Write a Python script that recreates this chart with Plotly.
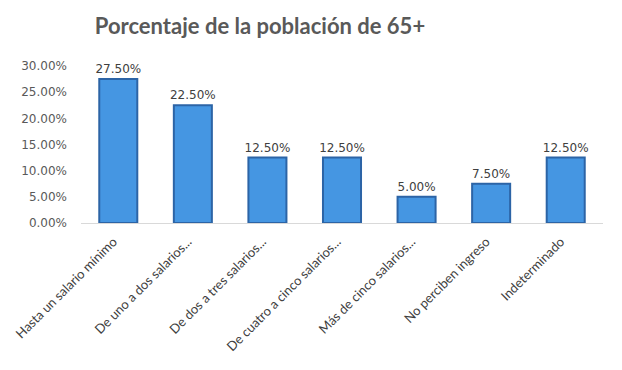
import plotly.graph_objects as go

categories = ["Hasta un salario mínimo", "De uno a dos salarios...", "De dos a tres salarios...",
              "De cuatro a cinco salarios...", "Más de cinco salarios...", "No perciben ingreso",
              "Indeterminado"]
values = [0.275, 0.225, 0.125, 0.125, 0.05, 0.075, 0.125]
labels = [f"{v*100:.2f}%" for v in values]

fig = go.Figure(go.Bar(
    x=categories, y=values, text=labels, textposition="outside",
    constraintext="none",
    textfont=dict(family="DejaVu Sans", size=12, color="#404040"),
    marker=dict(color="#4596e2", line=dict(color="#2c64a6", width=2)),
    cliponaxis=False,
))
fig.update_layout(
    width=614, height=362,
    margin=dict(l=73, r=19, t=58, b=147, autoexpand=False),
    paper_bgcolor="white", plot_bgcolor="white",
    bargap=0.49,
    showlegend=False,
    title=dict(text="<b>Porcentaje de la población de 65+</b>", x=252/614, xanchor="center",
               xref="container",
               y=1 - 18/362, yanchor="middle",
               font=dict(family="Lato", size=22, color="#595959")),
)
fig.update_yaxes(range=[0, 0.30], dtick=0.05, tickformat=".2%", showgrid=False,
                 zeroline=False, showline=False, automargin=False,
                 ticklabelstandoff=13,
                 tickfont=dict(family="DejaVu Sans", size=12, color="#595959"), ticks="")
fig.update_xaxes(tickangle=-45, showline=True, linecolor="#d9d9d9", linewidth=1,
                 automargin=False, ticklabelshift=-5, ticklabelstandoff=5,
                 tickfont=dict(family="Lato", size=13, color="#404040"), ticks="")
fig.write_html("out.html")
